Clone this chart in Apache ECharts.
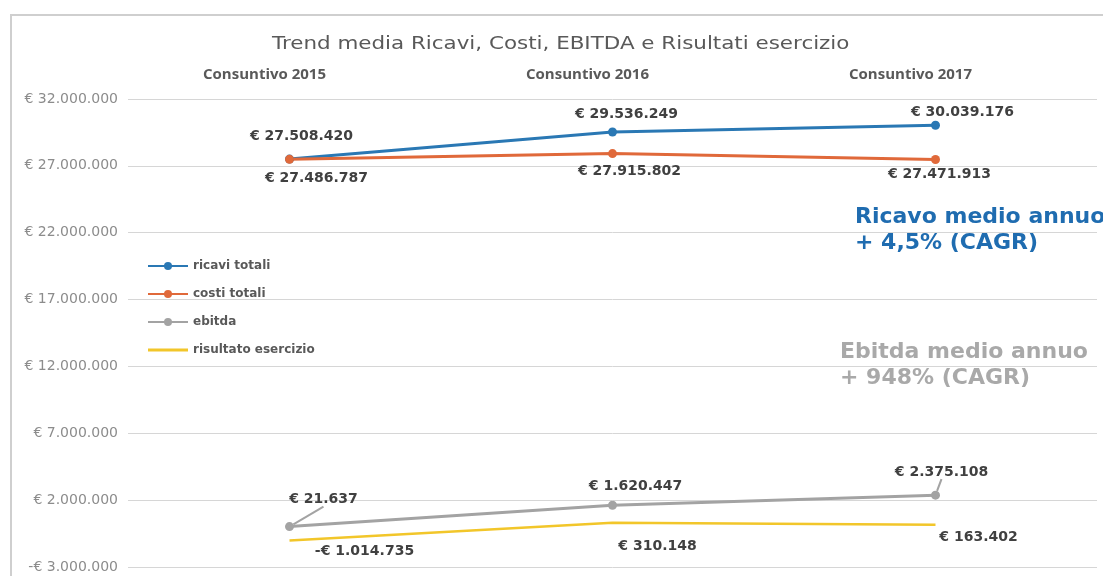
<!DOCTYPE html>
<html>
<head>
<meta charset="utf-8">
<script src="https://cdn.jsdelivr.net/npm/echarts@6/dist/echarts.min.js"></script>
<style>html,body{margin:0;padding:0;background:#fff}#c{width:1103px;height:576px}</style>
</head>
<body>
<div id="c"></div>
<script>
const titleText = 'Trend media Ricavi, Costi, EBITDA e Risultati esercizio';
const categories = ['Consuntivo 2015', 'Consuntivo 2016', 'Consuntivo 2017'];
const seriesNames = ['ricavi totali', 'costi totali', 'ebitda', 'risultato esercizio'];
const ricavi = [27508420, 29536249, 30039176];
const costi = [27486787, 27915802, 27471913];
const ebitda = [21637, 1620447, 2375108];
const risultato = [-1014735, 310148, 163402];
const yMin = -3000000, yMax = 32000000, yStep = 5000000;
const noteRicavi = 'Ricavo medio annuo\n+ 4,5% (CAGR)';
const noteEbitda = 'Ebitda medio annuo\n+ 948% (CAGR)';

// label placement (style only)
const offRicavi = [[12, -23], [14, -18], [27, -13]];
const offCosti = [[27, 19], [17, 18], [4, 15]];
const offEbitda = [[34, -27], [23, -19], [6, -23]];
const offRis = [[75, 11], [45, 24], [43, 13]];

function fmt(v) {
  const s = Math.abs(Math.round(v)).toString().replace(/\B(?=(\d{3})+(?!\d))/g, '.');
  return (v < 0 ? '-€ ' : '€ ') + s;
}
const labelBase = {
  show: true, position: 'inside', fontFamily: 'DejaVu Sans', fontWeight: 'bold',
  fontSize: 14, color: '#404040', formatter: p => fmt(p.value)
};
function mk(vals, offs, guides) {
  return vals.map((v, i) => {
    const item = { value: v, label: { offset: offs[i] } };
    if (guides && guides[i]) item.labelLine = { show: true, lineStyle: guides[i] };
    return item;
  });
}
const colors = ['#2a78b4', '#e0693a', '#a3a3a3', '#f2c62a'];

const chart = echarts.init(document.getElementById('c'));
chart.setOption({
  animation: false,
  backgroundColor: '#fff',
  legend: {
    orient: 'vertical', left: 142, top: 255, itemWidth: 40, itemHeight: 10, itemGap: 16,
    data: [
      { name: seriesNames[0] }, { name: seriesNames[1] }, { name: seriesNames[2] },
      { name: seriesNames[3], icon: 'path://M0,0h40v3h-40z' }
    ],
    textStyle: { fontFamily: 'DejaVu Sans', fontWeight: 'bold', fontSize: 12, color: '#595959' }
  },
  grid: { left: 128, right: 6, top: 99, bottom: 9 },
  xAxis: {
    type: 'category', data: categories, position: 'top', boundaryGap: true,
    axisLine: { show: false }, axisTick: { show: false },
    axisLabel: { margin: 17, padding: [0, 50, 0, 0], fontFamily: 'Open Sans', fontWeight: 'bold', fontSize: 15, color: '#595959' }
  },
  yAxis: {
    type: 'value', min: yMin, max: yMax, interval: yStep,
    axisLine: { show: false }, axisTick: { show: false },
    splitLine: { lineStyle: { color: '#d6d6d6', width: 1 } },
    axisLabel: { margin: 10, fontFamily: 'DejaVu Sans', fontSize: 14, color: '#8c8c8c',
      formatter: v => fmt(v) }
  },
  series: [
    { name: seriesNames[0], type: 'line', data: mk(ricavi, offRicavi), color: colors[0],
      symbol: 'circle', symbolSize: 9, lineStyle: { width: 3 }, label: labelBase, emphasis: { disabled: true } },
    { name: seriesNames[1], type: 'line', data: mk(costi, offCosti), color: colors[1],
      symbol: 'circle', symbolSize: 9, lineStyle: { width: 3 }, label: labelBase, emphasis: { disabled: true } },
    { name: seriesNames[2], type: 'line', data: mk(ebitda, offEbitda, [{ color: '#a3a3a3', width: 2 }, null, { color: '#a3a3a3', width: 2 }]), color: colors[2],
      symbol: 'circle', symbolSize: 9, lineStyle: { width: 3 }, label: labelBase, emphasis: { disabled: true } },
    { name: seriesNames[3], type: 'line', data: mk(risultato, offRis), color: colors[3],
      symbol: 'circle', symbolSize: 0, lineStyle: { width: 2.5 }, label: labelBase, emphasis: { disabled: true } }
  ],
  graphic: [
    { type: 'rect', shape: { x: 11, y: 15, width: 1110, height: 620 }, style: { fill: 'none', stroke: '#cfcfcf', lineWidth: 2 }, silent: true },
    { type: 'text', x: 272, y: 44, scaleX: 1.19, style: { text: titleText, fontFamily: 'DejaVu Sans', fontSize: 18, fill: '#595959', textVerticalAlign: 'middle' } },
    { type: 'text', x: 855, y: 204, style: { text: noteRicavi, fontFamily: 'DejaVu Sans', fontWeight: 'bold', fontSize: 22, lineHeight: 26, fill: '#1f6cb0' } },
    { type: 'text', x: 840, y: 339, style: { text: noteEbitda, fontFamily: 'DejaVu Sans', fontWeight: 'bold', fontSize: 22, lineHeight: 26, fill: '#a9a9a9' } }
  ]
});
</script>
</body>
</html>
